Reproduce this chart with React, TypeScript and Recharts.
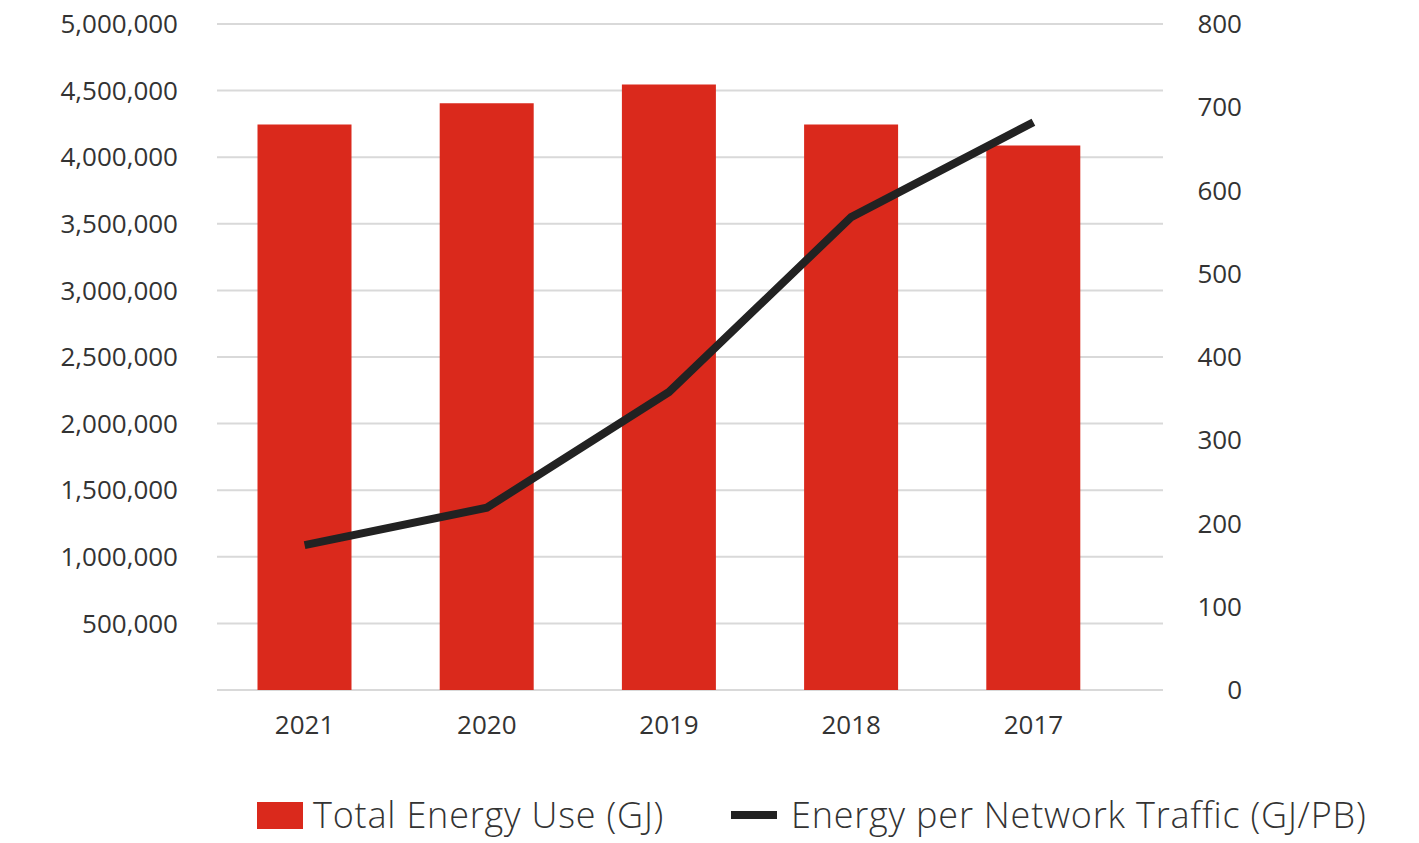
import React from "react";
import {
  ComposedChart,
  Bar,
  Line,
  XAxis,
  YAxis,
  CartesianGrid,
  Legend,
} from "recharts";

// values
const years = ["2021", "2020", "2019", "2018", "2017"];
const totalEnergy = [4245000, 4405000, 4545000, 4245000, 4087000];
const energyPerTraffic = [174, 219, 358, 568, 682];

const leftTicks = [0, 500000, 1000000, 1500000, 2000000, 2500000, 3000000, 3500000, 4000000, 4500000, 5000000];
const rightTicks = [0, 100, 200, 300, 400, 500, 600, 700, 800];

const data = years.map((year, i) => ({
  year,
  total: totalEnergy[i],
  perTraffic: energyPerTraffic[i],
}));

const FONT = "'Open Sans', sans-serif";
const TEXT = "#333333";
const RED = "#DA291C";
const DARK = "#222222";

const RightTick = (props: any) => {
  const { x, y, payload } = props;
  return (
    <text
      x={x + 79}
      y={y}
      dy="0.355em"
      textAnchor="end"
      fill={TEXT}
      fontSize={26}
      fontFamily={FONT}
    >
      {payload.value}
    </text>
  );
};

const renderLegend = () => (
  <div
    style={{
      height: 48,
      display: "flex",
      alignItems: "center",
      paddingLeft: 257,
      fontFamily: FONT,
      fontSize: 36,
      lineHeight: "36px",
      letterSpacing: "0.8px",
      color: TEXT,
      fontWeight: 300,
    }}
  >
    <div style={{ width: 474, display: "flex", alignItems: "center" }}>
      <span style={{ width: 46, height: 27, background: RED, marginRight: 10 }} />
      <span>Total Energy Use (GJ)</span>
    </div>
    <div style={{ display: "flex", alignItems: "center" }}>
      <span style={{ width: 46, height: 7.5, background: DARK, marginRight: 14 }} />
      <span>Energy per Network Traffic (GJ/PB)</span>
    </div>
  </div>
);

const App = () => {
  return (
    <div style={{ position: "absolute", left: 0, top: 0 }}>
      <ComposedChart
        width={1419}
        height={843}
        data={data}
        margin={{ top: 24, right: 0, bottom: 0, left: 0 }}
      >
        <CartesianGrid
          yAxisId="left"
          vertical={false}
          stroke="#d9d9d9"
          strokeWidth={2}
        />
        <XAxis
          dataKey="year"
          height={105}
          tickLine={false}
          axisLine={false}
          tickSize={0}
          tickMargin={26}
          padding={{ left: -3.5, right: 38.5 }}
          tick={{ fill: TEXT, fontSize: 26, fontFamily: FONT }}
        />
        <YAxis
          yAxisId="left"
          width={217}
          domain={[0, 5000000]}
          ticks={leftTicks}
          interval={0}
          tickLine={false}
          axisLine={false}
          tickSize={0}
          tickMargin={39}
          tickFormatter={(v) => (v === 0 ? "" : v.toLocaleString("en-US"))}
          tick={{ fill: TEXT, fontSize: 26, fontFamily: FONT }}
        />
        <YAxis
          yAxisId="right"
          orientation="right"
          width={256}
          domain={[0, 800]}
          ticks={rightTicks}
          interval={0}
          tickLine={false}
          axisLine={false}
          tickSize={0}
          tickMargin={0}
          tick={<RightTick />}
        />
        <Legend
          verticalAlign="bottom"
          content={renderLegend}
          wrapperStyle={{ top: 791, left: 0, width: 1419, height: 48 }}
        />
        <Bar
          yAxisId="left"
          dataKey="total"
          name="Total Energy Use (GJ)"
          fill={RED}
          barSize={94}
          isAnimationActive={false}
        />
        <Line
          yAxisId="right"
          dataKey="perTraffic"
          name="Energy per Network Traffic (GJ/PB)"
          stroke={DARK}
          strokeWidth={8}
          strokeLinecap="butt"
          dot={false}
          activeDot={false}
          isAnimationActive={false}
        />
      </ComposedChart>
    </div>
  );
};

export default App;
